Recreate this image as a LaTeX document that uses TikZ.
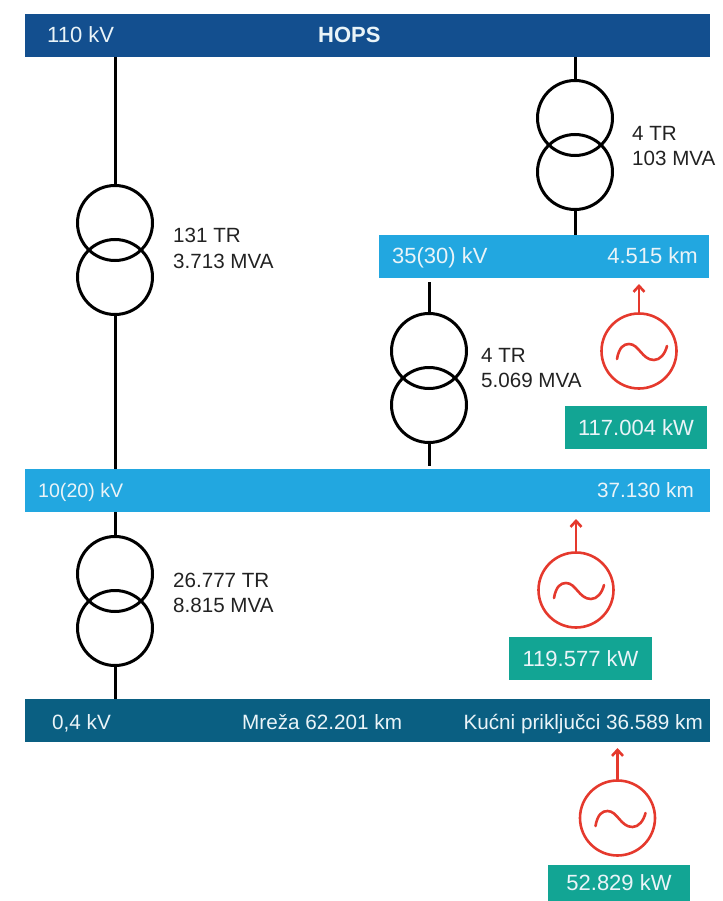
\documentclass[tikz,border=0pt]{standalone}
\usepackage{fontspec}
\setmainfont{Liberation Sans}
\usetikzlibrary{arrows.meta}
\definecolor{hvblue}{HTML}{134F8F}
\definecolor{mvblue}{HTML}{22A7E0}
\definecolor{lvblue}{HTML}{0A5F82}
\definecolor{kwgreen}{HTML}{12A594}
\definecolor{genred}{HTML}{E5392D}
\definecolor{txtblack}{HTML}{222222}
\definecolor{txtwhite}{HTML}{EAF4F8}
\tikzset{
  x=1pt,y=-1pt,
  busbar/.style={draw=none,inner sep=0pt,outer sep=0pt,anchor=north west},
  kwbox/.style={fill=kwgreen,draw=none,inner sep=0pt,outer sep=0pt,anchor=north west,text=txtwhite,font=\fontsize{22}{24}\selectfont},
  winding/.style={circle,draw=black,line width=3pt,minimum size=75pt,inner sep=0pt,outer sep=0pt},
  gencircle/.style={circle,draw=genred,line width=2.6pt,minimum size=75pt,inner sep=0pt,outer sep=0pt},
  lead/.style={line width=3pt,draw=black},
  genarrow/.style={draw=genred,line width=2.6pt,-{Straight Barb[length=6pt,width=11pt,line width=2.6pt]}},
  wave/.style={draw=genred,line width=2.6pt,line cap=round},
  bustext/.style={text=txtwhite,inner sep=0pt,font=\fontsize{20.7}{22}\selectfont},
  bigbustext/.style={text=txtwhite,inner sep=0pt,font=\fontsize{22}{24}\selectfont},
  bodytext/.style={text=txtblack,inner sep=0pt,anchor=base west,align=left,font=\fontsize{20.6}{25}\selectfont},
}
\newcommand{\sinewave}[1]{\draw[wave,shift={(#1)}] (-22,8) .. controls (-20,-4) and (-15,-7) .. (-10,-7) .. controls (0,-7) and (3,9) .. (15,9) .. controls (21,9) and (26,3) .. (28,-5);}
\begin{document}
\begin{tikzpicture}
\useasboundingbox (0,0) rectangle (722,901);
% buses
\node[busbar,fill=hvblue,minimum width=685pt,minimum height=43pt] (b110) at (24.5,14) {};
\node[busbar,fill=mvblue,minimum width=330pt,minimum height=43pt] (b35) at (379,235) {};
\node[busbar,fill=mvblue,minimum width=685pt,minimum height=43pt] (b10) at (24.5,469) {};
\node[busbar,fill=lvblue,minimum width=685pt,minimum height=43pt] (b04) at (24.5,699) {};
% bus labels
\node[bigbustext,anchor=base west] (l110) at (47,43) {110 kV};
\node[bigbustext,anchor=base west,font=\fontsize{22}{24}\selectfont\bfseries] (lhops) at (318,43) {HOPS};
\node[bigbustext,anchor=base west] (l35) at (392,263) {35(30) kV};
\node[bigbustext,anchor=base east] (l35km) at (698,263) {4.515 km};
\node[bustext,anchor=base west,font=\fontsize{19.6}{22}\selectfont] (l10) at (38,497) {10(20) kV};
\node[bustext,anchor=base east] (l10km) at (694,497) {37.130 km};
\node[bustext,anchor=base west] (l04) at (52,729) {0,4 kV};
\node[bustext,anchor=base west] (lmreza) at (242,729) {Mreža 62.201 km};
\node[bustext,anchor=base east] (lkucni) at (703,729) {Kućni priključci 36.589 km};
% transformers
\node[winding] (ta1) at (115,223) {};
\node[winding] (ta2) at (115,277) {};
\node[winding] (tb1) at (575,118) {};
\node[winding] (tb2) at (575,172) {};
\node[winding] (tc1) at (429,351) {};
\node[winding] (tc2) at (429,405) {};
\node[winding] (td1) at (115,574) {};
\node[winding] (td2) at (115,628) {};
% connectors
\draw[lead] (b110.south -| ta1.north) -- (ta1.north);
\draw[lead] (ta2.south) -- (b10.north -| ta2.south);
\draw[lead] (b110.south -| tb1.north) -- (tb1.north);
\draw[lead] (tb2.south) -- (b35.north -| tb2.south);
\draw[lead,shorten <=4pt] (b35.south -| tc1.north) -- (tc1.north);
\draw[lead,shorten >=3pt] (tc2.south) -- (b10.north -| tc2.south);
\draw[lead] (b10.south -| td1.north) -- (td1.north);
\draw[lead] (td2.south) -- (b04.north -| td2.south);
% transformer labels
\node[bodytext] (ta) at (173,268) {131 TR\\3.713 MVA};
\node[bodytext] (tb) at (632,166) {4 TR\\103 MVA};
\node[bodytext] (tc) at (481,387) {4 TR\\5.069 MVA};
\node[bodytext] (td) at (173,612) {26.777 TR\\8.815 MVA};
% generators
\node[gencircle] (g1) at (639,351) {};
\node[gencircle] (g2) at (576,590) {};
\node[gencircle] (g3) at (617.5,818) {};
\sinewave{g1.center}
\sinewave{g2.center}
\sinewave{g3.center}
\draw[genarrow,shorten >=6pt] (g1.north) -- (b35.south -| g1.north);
\draw[genarrow,shorten >=7pt] (g2.north) -- (b10.south -| g2.north);
\draw[genarrow,shorten >=6pt] (g3.north) -- (b04.south -| g3.north);
% output boxes
\node[kwbox,minimum width=142pt,minimum height=43pt] (k1) at (565,406) {117.004 kW};
\node[kwbox,minimum width=143pt,minimum height=43pt] (k2) at (509,637) {119.577 kW};
\node[kwbox,minimum width=142pt,minimum height=36pt] (k3) at (548,865) {\raisebox{-4pt}{52.829 kW}};
\end{tikzpicture}
\end{document}
